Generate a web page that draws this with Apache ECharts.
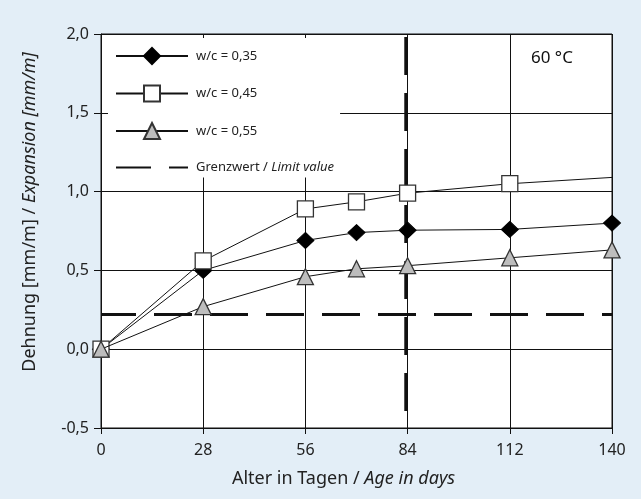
<!DOCTYPE html>
<html>
<head>
<meta charset="utf-8">
<script src="https://cdn.jsdelivr.net/npm/echarts@6/dist/echarts.min.js"></script>
<style>
  html, body { margin: 0; padding: 0; background: #e3eef7; }
  #chart { width: 641px; height: 499px; }
</style>
</head>
<body>
<div id="chart"></div>
<script>
// Alter in Tagen
const days = [0, 28, 56, 70, 84, 112, 140];
// Dehnung [mm/m]
const wc035 = [0.0, 0.50, 0.69, 0.74, 0.755, 0.76, 0.80];
const wc045 = [0.0, 0.56, 0.89, 0.935, 0.99, 1.05, 1.09];
const wc055 = [0.0, 0.27, 0.46, 0.51, 0.53, 0.58, 0.63];
const limitValue = 0.22;
const limitAge = 83.5;
const xTicks = [0, 28, 56, 84, 112, 140];
const yTicks = [-0.5, 0, 0.5, 1.0, 1.5, 2.0];

const font = "'Noto Sans', 'Open Sans', sans-serif";
const comma = (v) => v.toFixed(1).replace(".", ",");

const pts = (ys) => days.map((d, i) => [d, ys[i]]);

const chart = echarts.init(document.getElementById("chart"));

chart.setOption({
  backgroundColor: "#e3eef7",
  animation: false,
  title: {
    text: "60 °C",
    left: 526,
    top: 45,
    textStyle: { fontFamily: font, fontSize: 17, fontWeight: "normal", color: "#111" },
  },
  legend: {
    orient: "vertical",
    left: 108,
    top: 38,
    padding: [9, 6, 2, 7],
    itemWidth: 72,
    itemHeight: 20,
    itemGap: 19.5,
    backgroundColor: "#fff",
    data: [
      "w/c = 0,35",
      "w/c = 0,45",
      "w/c = 0,55",
      {
        name: "Grenzwert / Limit value",
        itemStyle: { color: "rgba(0,0,0,0)", borderColor: "rgba(0,0,0,0)", borderWidth: 0 },
      },
    ],
    formatter: (name) =>
      name === "Grenzwert / Limit value" ? "{n|Grenzwert / }{i|Limit value}" : "{n|" + name + "}",
    textStyle: {
      fontFamily: font,
      fontSize: 13,
      color: "#222",
      padding: [0, 0, 0, 3],
      rich: {
        n: { fontFamily: font, fontSize: 13, color: "#222" },
        i: { fontFamily: font, fontSize: 13, color: "#222", fontStyle: "italic" },
      },
    },
  },
  grid: {
    left: 101,
    right: 29,
    top: 34,
    bottom: 71,
    show: true,
    backgroundColor: "#fff",
    borderColor: "#111",
    borderWidth: 1,
  },
  xAxis: {
    type: "value",
    min: xTicks[0],
    max: xTicks[xTicks.length - 1],
    interval: 28,
    name: "Alter in Tagen / {i|Age in days}",
    nameLocation: "middle",
    nameGap: 42,
    nameTextStyle: {
      fontFamily: font,
      fontSize: 18,
      color: "#222",
      padding: [0, 26, 0, 0],
      rich: { i: { fontFamily: font, fontSize: 18, color: "#222", fontStyle: "italic" } },
    },
    axisLine: { onZero: false, lineStyle: { color: "#111", width: 1 } },
    axisTick: { show: true, length: 6, lineStyle: { color: "#111" } },
    axisLabel: { fontFamily: font, fontSize: 16, color: "#222", margin: 14 },
    splitLine: { show: true, lineStyle: { color: "#111", width: 1 } },
  },
  yAxis: {
    type: "value",
    min: yTicks[0],
    max: yTicks[yTicks.length - 1],
    interval: 0.5,
    name: "Dehnung [mm/m] / {i|Expansion [mm/m]}",
    nameLocation: "middle",
    nameGap: 62,
    nameTextStyle: {
      fontFamily: font,
      fontSize: 18,
      color: "#222",
      padding: [0, 0, 0, 38],
      rich: { i: { fontFamily: font, fontSize: 18, color: "#222", fontStyle: "italic" } },
    },
    axisLine: { onZero: false, lineStyle: { color: "#111", width: 1 } },
    axisTick: { show: true, length: 7, lineStyle: { color: "#111" } },
    axisLabel: { fontFamily: font, fontSize: 16, color: "#222", margin: 12, formatter: comma },
    splitLine: { show: true, lineStyle: { color: "#111", width: 1 } },
  },
  series: [
    {
      name: "Grenzwert / Limit value",
      type: "line",
      data: [[xTicks[0], limitValue], [xTicks[xTicks.length - 1], limitValue]],
      symbol: "none",
      lineStyle: { color: "#111", width: 3, type: [38, 18], dashOffset: 3 },
      itemStyle: { color: "#111" },
      z: 1,
    },
    {
      name: "limitAge",
      type: "line",
      data: [[limitAge, yTicks[yTicks.length - 1]], [limitAge, yTicks[0]]],
      symbol: "none",
      lineStyle: { color: "#111", width: 3, type: [38, 18], dashOffset: -3 },
      z: 1,
    },
    {
      name: "w/c = 0,35",
      type: "line",
      data: pts(wc035),
      symbol: "diamond",
      symbolSize: [17, 16],
      showAllSymbol: true,
      lineStyle: { color: "#111", width: 1 },
      itemStyle: { color: "#000", borderColor: "#000", borderWidth: 1 },
      z: 3,
    },
    {
      name: "w/c = 0,45",
      type: "line",
      data: pts(wc045).map((p, i) => (i === days.length - 1 ? { value: p, symbol: "none" } : p)),
      symbol: "rect",
      symbolSize: 16,
      showAllSymbol: true,
      lineStyle: { color: "#111", width: 1 },
      itemStyle: { color: "#fff", borderColor: "#333", borderWidth: 1.3 },
      z: 4,
    },
    {
      name: "w/c = 0,55",
      type: "line",
      data: pts(wc055),
      symbol: "triangle",
      symbolSize: 16,
      showAllSymbol: true,
      lineStyle: { color: "#111", width: 1 },
      itemStyle: { color: "#bdbdbd", borderColor: "#333", borderWidth: 1.3 },
      z: 5,
    },
  ],
});
</script>
</body>
</html>
